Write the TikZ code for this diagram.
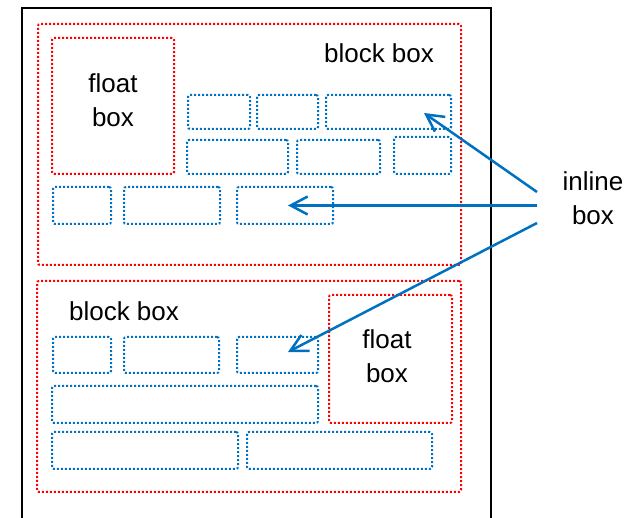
\documentclass[tikz,border=0pt]{standalone}
\usepackage{fontspec}
\setmainfont{Liberation Sans}
\usetikzlibrary{arrows.meta}
\definecolor{ibl}{HTML}{0070C0}
\definecolor{fred}{HTML}{FF0000}
\tikzset{
  redbox/.style={draw=fred, line width=2pt, dash pattern=on 2pt off 2pt, rounded corners=2pt, inner sep=0pt},
  inl/.style={draw=ibl, line width=2pt, dash pattern=on 2pt off 2pt, rounded corners=2pt, inner sep=0pt},
  lbl/.style={font=\fontsize{26}{34}\selectfont, inner sep=0pt, align=center},
  arr/.style={draw=ibl, line width=2.5pt, -{Straight Barb[length=17pt,width=18pt,line width=2.5pt]}}
}
\newcommand\bx[6]{\node[#2, minimum width={#5-#3}, minimum height={#6-#4}] (#1) at ({(#3+#5)/2},{(#4+#6)/2}) {};}
\begin{document}
\begin{tikzpicture}[x=1pt,y=-1pt]
\useasboundingbox (0,0) rectangle (630,518);
% page frame
\coordinate (fbl) at (22,520);
\coordinate (ftl) at (22,8);
\coordinate (ftr) at (491,8);
\coordinate (fbr) at (491,520);
\draw[line width=2pt] (fbl) -- (ftl) -- (ftr) -- (fbr);
% top block
\bx{blockA}{redbox}{38}{24}{461}{265}
\bx{floatA}{redbox}{52}{38}{174}{174}
\node[lbl] (floatAt) at (113,100) {float\\box};
\node[lbl, anchor=base] (blockAt) at (379,63) {block box};
\bx{a1}{inl}{188}{95}{250}{129}
\bx{a2}{inl}{257}{95}{318}{129}
\bx{a3}{inl}{326}{95}{451}{129}
\bx{a4}{inl}{187}{140}{288}{174}
\bx{a5}{inl}{297}{140}{380}{174}
\bx{a6}{inl}{394}{137}{451}{174}
\bx{a7}{inl}{53}{187}{111}{224}
\bx{a8}{inl}{124}{187}{220}{224}
\bx{a9}{inl}{237}{187}{333}{224}
% bottom block
\bx{blockB}{redbox}{37}{281}{461}{492}
\bx{floatB}{redbox}{329}{295}{452}{423}
\node[lbl] (floatBt) at (387,356) {float\\box};
\node[lbl, anchor=base] (blockBt) at (124,321) {block box};
\bx{b1}{inl}{53}{337}{111}{373}
\bx{b2}{inl}{124}{337}{219}{373}
\bx{b3}{inl}{237}{337}{318}{373}
\bx{b4}{inl}{52}{386}{318}{423}
\bx{b5}{inl}{52}{432}{238}{469}
\bx{b6}{inl}{247}{432}{432}{469}
% inline label
\node[lbl] (inl) at (593,198) {inline\\box};
\coordinate (s1) at (537,192);
\coordinate (s2) at (537,205.5);
\coordinate (s3) at (537,223);
\coordinate (t1) at (424,113);
\coordinate (t2) at (288,205.5);
\coordinate (t3) at (288,352);
\draw[arr] (s1) -- (t1);
\draw[arr] (s2) -- (t2);
\draw[arr] (s3) -- (t3);
\end{tikzpicture}
\end{document}
